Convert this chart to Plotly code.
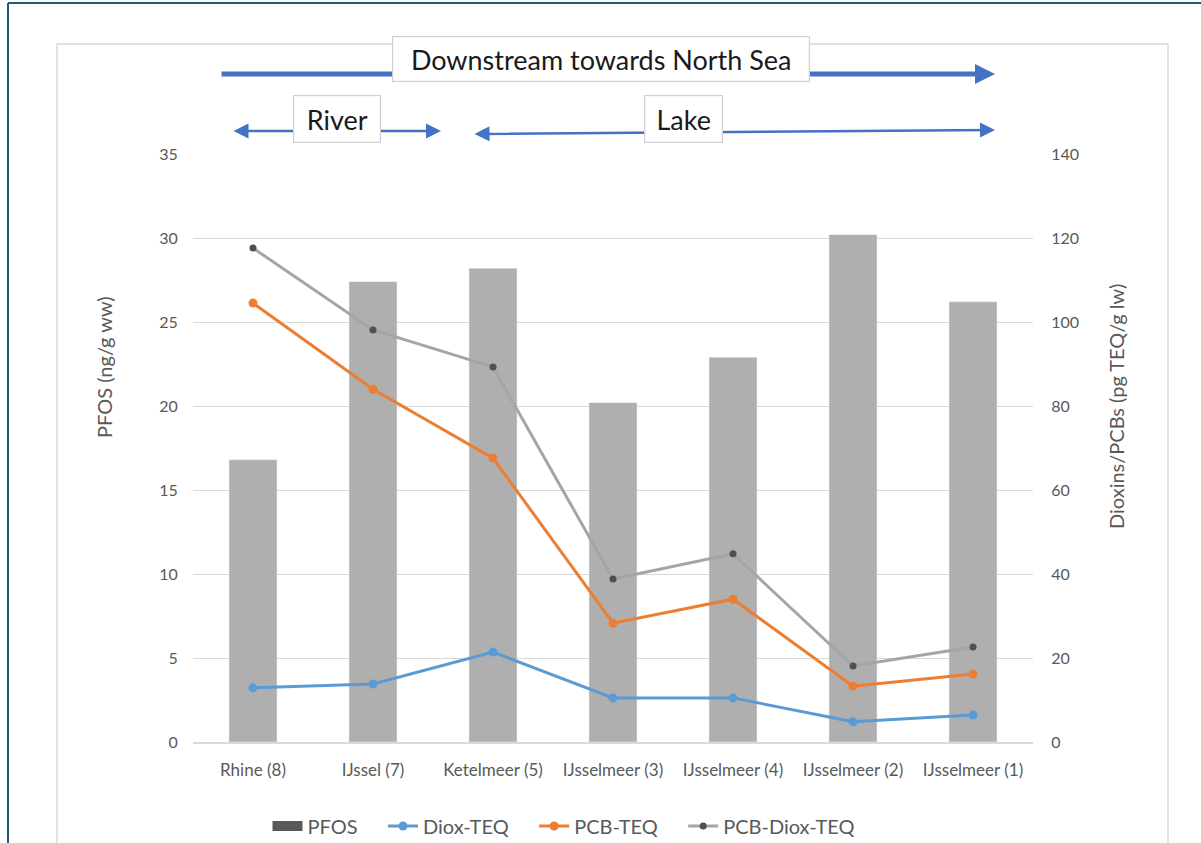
import plotly.graph_objects as go

categories = ["Rhine (8)", "IJssel (7)", "Ketelmeer (5)", "IJsselmeer (3)",
              "IJsselmeer (4)", "IJsselmeer (2)", "IJsselmeer (1)"]
pfos = [16.8, 27.4, 28.2, 20.2, 22.9, 30.2, 26.2]
diox_teq = [12.9, 13.8, 21.4, 10.5, 10.5, 4.8, 6.4]
pcb_teq = [104.5, 84.0, 67.6, 28.3, 34.0, 13.3, 16.2]
pcb_diox_teq = [117.6, 98.1, 89.3, 38.8, 44.8, 18.1, 22.6]
left_ticks = [0, 5, 10, 15, 20, 25, 30, 35]
right_ticks = [0, 20, 40, 60, 80, 100, 120, 140]

W, H = 1201, 843
L, R, T, B = 193, 1033, 154, 742
FONT = "Lato"
GREY_TXT = "#595959"
ARROW = "#4472C4"
PAD = "\u00a0" * 4


def px(X):
    return (X - L) / (R - L)


def py(Y):
    return (B - Y) / (B - T)


fig = go.Figure()
fig.add_trace(go.Bar(x=categories, y=pfos, name="PFOS", marker_color="#AFAFAF",
                     showlegend=False, width=0.4))
fig.add_trace(go.Scatter(x=[None], y=[None], name="PFOS" + PAD, mode="lines",
                         line=dict(color="#595959", width=11), showlegend=True))
fig.add_trace(go.Scatter(x=categories, y=diox_teq, name="Diox-TEQ" + PAD, yaxis="y2",
                         mode="lines+markers", line=dict(color="#5B9BD5", width=3),
                         marker=dict(color="#5B9BD5", size=9)))
fig.add_trace(go.Scatter(x=categories, y=pcb_teq, name="PCB-TEQ" + PAD, yaxis="y2",
                         mode="lines+markers", line=dict(color="#ED7D31", width=3),
                         marker=dict(color="#ED7D31", size=9)))
fig.add_trace(go.Scatter(x=categories, y=pcb_diox_teq, name="PCB-Diox-TEQ", yaxis="y2",
                         mode="lines+markers", line=dict(color="#A5A5A5", width=3),
                         marker=dict(color="#505050", size=7)))

shapes = [
    dict(type="line", xref="paper", yref="paper", x0=px(8), x1=px(1205), y0=py(3), y1=py(3),
         line=dict(color="#1F5C7A", width=2)),
    dict(type="line", xref="paper", yref="paper", x0=px(8), x1=px(8), y0=py(3), y1=py(850),
         line=dict(color="#1F5C7A", width=2)),
    dict(type="rect", xref="paper", yref="paper", x0=px(57), x1=px(1168), y0=py(44), y1=py(860),
         line=dict(color="#D9D9D9", width=1.5)),
]

annotations = []


def arrow(x0, y0, x1, y1, width, both=False, size=1.0):
    annotations.append(dict(
        xref="paper", yref="paper", x=px(x1), y=py(y1), axref="pixel", ayref="pixel",
        ax=x0 - x1, ay=y0 - y1, text="", showarrow=True, arrowhead=2, arrowsize=size,
        arrowwidth=width, arrowcolor=ARROW, arrowside="end+start" if both else "end"))


arrow(220, 74, 995, 74, 5, size=0.8)
arrow(232, 131, 441, 131, 2.5, both=True, size=1.2)
arrow(473, 134, 995, 130, 2.5, both=True, size=1.2)


def box(text, xc, yc, w, h, size):
    annotations.append(dict(
        xref="paper", yref="paper", x=px(xc), y=py(yc), xanchor="center", yanchor="middle",
        text=text, showarrow=False, font=dict(family=FONT, size=size, color="#1A1A1A"),
        bgcolor="white", bordercolor="#D0D0D0", borderwidth=1.2, width=w, height=h,
        borderpad=0))


box("Downstream towards North Sea", 601, 59, 416, 44, 27)
box("River", 337, 119, 86, 46, 27)
box("Lake", 683, 119, 77, 46, 27)

annotations.append(dict(xref="paper", yref="paper", x=px(104), y=py(367), text="PFOS (ng/g ww)",
                        textangle=-90, showarrow=False, xanchor="center", yanchor="middle",
                        font=dict(family=FONT, size=20, color=GREY_TXT)))
annotations.append(dict(xref="paper", yref="paper", x=px(1116), y=py(407),
                        text="Dioxins/PCBs (pg TEQ/g lw)",
                        textangle=-90, showarrow=False, xanchor="center", yanchor="middle",
                        font=dict(family=FONT, size=20, color=GREY_TXT)))

fig.update_layout(
    width=W, height=H,
    margin=dict(l=L, r=W - R, t=T, b=H - B, autoexpand=False),
    paper_bgcolor="white", plot_bgcolor="white",
    barmode="overlay",
    font=dict(family=FONT, color=GREY_TXT, size=16),
    xaxis=dict(type="category", categoryorder="array", categoryarray=categories,
               showline=True, linecolor="#D9D9D9", linewidth=1.5, showgrid=False,
               ticks="outside", ticklen=12, tickcolor="rgba(0,0,0,0)",
               tickfont=dict(family=FONT, size=17, color=GREY_TXT)),
    yaxis=dict(range=[0, 35], tickvals=left_ticks, showgrid=True, gridcolor="#D9D9D9",
               gridwidth=1, zeroline=False, showline=False,
               ticks="outside", ticklen=11, tickcolor="rgba(0,0,0,0)",
               tickfont=dict(family=FONT, size=16, color=GREY_TXT)),
    yaxis2=dict(range=[0, 140], tickvals=right_ticks, overlaying="y", side="right",
                showgrid=False, zeroline=False, showline=False,
                ticks="outside", ticklen=14, tickcolor="rgba(0,0,0,0)",
                tickfont=dict(family=FONT, size=16, color=GREY_TXT)),
    legend=dict(orientation="h", x=px(564), y=py(826), xanchor="center", yanchor="middle",
                font=dict(family=FONT, size=20, color=GREY_TXT), traceorder="normal",
                itemwidth=30),
    shapes=shapes,
    annotations=annotations,
)

fig.write_html("out.html")
